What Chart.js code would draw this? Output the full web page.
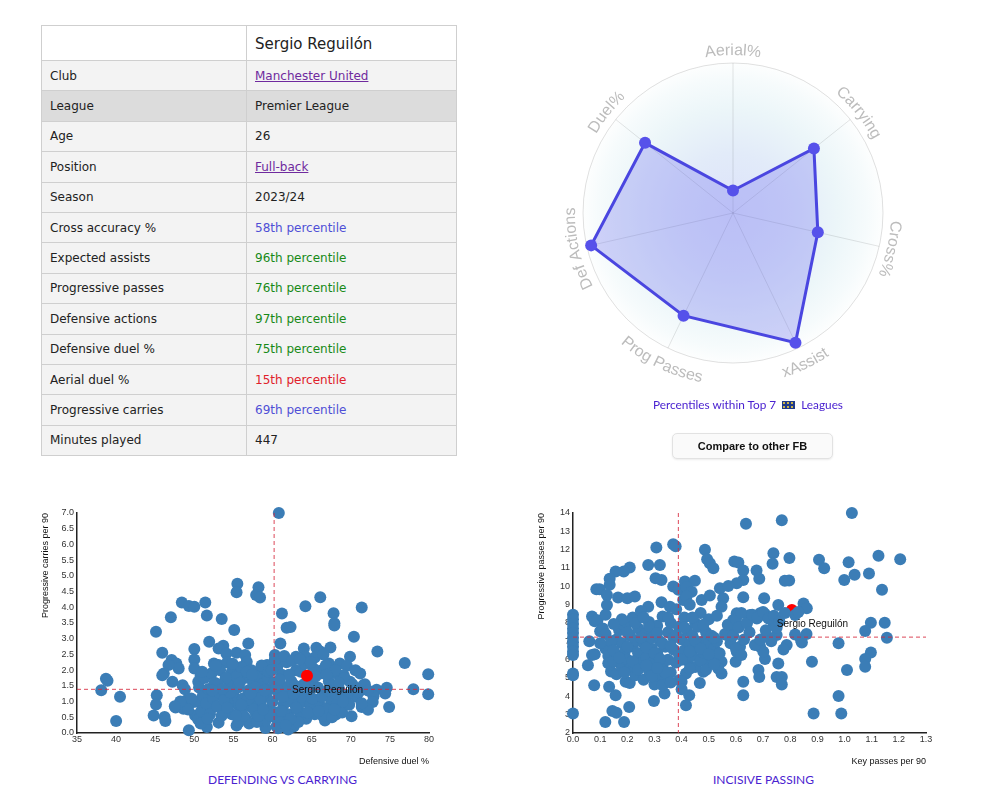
<!DOCTYPE html>
<html>
<head>
<meta charset="utf-8">
<script src="https://cdn.jsdelivr.net/npm/chart.js@4"></script>
<style>
  body { margin: 0; background: #fff; width: 994px; height: 806px; position: relative; overflow: hidden; }
  .profile { position: absolute; left: 41px; top: 25px; width: 416px; border-collapse: collapse;
    font-family: "DejaVu Sans", sans-serif; font-size: 12px; color: #222; }
  .profile td { border: 1px solid #cfcfcf; padding: 0 8px; height: 29.4px; background: #f3f3f3; }
  .profile td:first-child { width: 188px; }
  .profile tr.head td { background: #fff; height: 32px; font-size: 15px; padding-top: 2px; }
  .profile tr.hover td { background: #dcdcdc; }
  .profile a { color: #6f2a9e; }
  .blue { color: #4f4fd6; }
  .green { color: #178a17; }
  .red { color: #e0202a; }
  canvas { position: absolute; }
  .note { position: absolute; font-family: Lato, sans-serif; color: #4a22d0; white-space: nowrap; }
  .flag { display: inline-block; width: 13px; height: 8px; background: #1f3a8a; vertical-align: 0px; margin: 0 3px;
    background-image: radial-gradient(circle, #c9b24a 0.8px, transparent 1.2px); background-size: 4px 4px; }
  .btn { position: absolute; left: 672px; top: 433px; width: 159px; height: 24px; border: 1px solid #e2e2e2;
    border-radius: 5px; background: #fafafa; box-shadow: 0 1px 2px rgba(0,0,0,0.08);
    font: bold 11px "Liberation Sans", Arial, sans-serif; color: #111; text-align: center; line-height: 24px; }
</style>
</head>
<body>
<table class="profile">
  <tr class="head"><td></td><td>Sergio Reguilón</td></tr>
  <tr><td>Club</td><td><a href="#">Manchester United</a></td></tr>
  <tr class="hover"><td>League</td><td>Premier League</td></tr>
  <tr><td>Age</td><td>26</td></tr>
  <tr><td>Position</td><td><a href="#">Full-back</a></td></tr>
  <tr><td>Season</td><td>2023/24</td></tr>
  <tr><td>Cross accuracy %</td><td class="blue">58th percentile</td></tr>
  <tr><td>Expected assists</td><td class="green">96th percentile</td></tr>
  <tr><td>Progressive passes</td><td class="green">76th percentile</td></tr>
  <tr><td>Defensive actions</td><td class="green">97th percentile</td></tr>
  <tr><td>Defensive duel %</td><td class="green">75th percentile</td></tr>
  <tr><td>Aerial duel %</td><td class="red">15th percentile</td></tr>
  <tr><td>Progressive carries</td><td class="blue">69th percentile</td></tr>
  <tr><td>Minutes played</td><td>447</td></tr>
</table>

<canvas id="radar" width="400" height="400" style="left:533px;top:13px"></canvas>
<div class="note" style="left:653px;top:397px;font-size:11.8px">Percentiles within Top 7 <span class="flag"></span> Leagues</div>
<div class="btn">Compare to other FB</div>

<canvas id="carry" width="420" height="270" style="left:30px;top:500px"></canvas>
<div class="note" style="left:208px;top:772px;font-size:12px;letter-spacing:0px">DEFENDING VS CARRYING</div>

<canvas id="pass" width="420" height="270" style="left:530px;top:500px"></canvas>
<div class="note" style="left:713px;top:772px;font-size:12px;letter-spacing:0px">INCISIVE PASSING</div>

<script>
// radar percentiles
const radarLabels = ["Aerial%", "Carrying", "Cross%", "xAssist", "Prog Passes", "Def Actions", "Duel%"];
const radarValues = [15, 69, 58, 96, 76, 97, 75];

const playerName = "Sergio Reguilón";

// defensive duel % vs progressive carries per 90
const carryPlayer = [64.4, 1.82];
const carryMedian = [60.2, 1.39];
const carryPoints = [
  [60.8,7.0],[55.5,4.75],[55.4,4.48],[58.2,4.64],[57.9,4.39],[58.4,4.31],[66.1,4.32],[64.2,4.03],[71.4,3.99],
  [48.4,4.15],[49.3,4.04],[50.0,4.02],[51.4,4.15],[51.6,3.74],[47.0,3.68],[53.5,3.63],[61.2,3.8],[67.8,3.81],
  [67.9,3.49],[67.9,3.42],[61.8,3.35],[62.3,3.37],[55.1,3.28],[45.1,3.22],[70.4,3.06],
  [51.9,2.9],[56.9,2.85],[61.0,2.85],[53.7,2.78],[53.1,2.69],[50.0,2.67],[67.4,2.72],[64.0,2.69],[65.6,2.71],
  [66.1,2.59],[73.4,2.59],[45.9,2.55],[54.1,2.53],[55.4,2.55],[56.5,2.48],[60.3,2.48],[63.0,2.43],[64.2,2.43],
  [65.4,2.4],[69.9,2.43],[76.9,2.23],
  [47.1,2.32],[47.7,2.21],[50.0,2.34],[50.0,2.05],[48.0,2.05],[46.7,2.16],[52.5,2.21],[53.1,2.16],[54.2,2.24],
  [56.7,2.27],[59.3,2.16],[60.8,2.27],[61.8,2.3],[67.2,2.21],[68.6,2.21],[69.5,2.14],[71.2,1.89],[79.9,1.87],
  [46.1,1.89],[45.9,1.84],[50.8,1.81],[50.5,1.63],[47.2,1.63],[38.7,1.73],[38.9,1.66],[38.1,1.36],[48.5,1.52],
  [48.8,1.39],[56.1,1.86],[54.8,1.95],[66.1,1.98],[68.2,1.89],[69.1,1.84],[69.9,1.63],[71.6,1.52],[73.3,1.38],
  [74.6,1.44],[74.4,1.26],[72.9,1.17],[72.8,0.99],[74.9,0.83],[78.0,1.39],[79.9,1.23],[70.5,1.41],[70.7,1.15],
  [69.3,1.07],[71.4,0.83],[72.2,0.74],[70.1,0.53],[68.1,0.59],[66.7,0.4],
  [40.5,1.15],[40.0,0.38],[45.2,1.2],[45.1,0.91],[44.8,0.56],[46.2,0.51],[46.3,0.38],[47.6,0.81],[48.6,0.77],
  [49.0,1.04],[49.3,0.09],[49.9,0.99],[50.1,0.56],[50.5,0.43],[51.2,1.04],[51.6,0.19],[51.4,0.65],[53.1,0.33],
  [53.5,0.78],[53.7,1.15],[52.5,0.83],[55.4,0.24],[59.1,0.16],[60.5,0.21],[62.0,0.11],[62.7,0.21],[63.5,0.46],
  [61.4,0.46],[60.3,0.51],
  [54.5,1.55],[55.0,1.2],[55.2,0.95],[55.6,1.45],[55.9,0.7],[56.2,1.1],[56.4,1.75],[56.6,0.45],[56.9,1.35],
  [57.1,0.85],[57.3,2.0],[57.5,1.6],[57.7,1.05],[57.9,0.6],[58.1,1.85],[58.3,1.3],[58.5,0.9],[58.7,1.55],
  [58.9,2.05],[59.1,0.4],[59.2,1.15],[59.4,1.75],[59.6,0.75],[59.8,1.4],[54.8,0.6],[55.4,1.8],[56.0,2.1],
  [57.0,0.3],[58.0,0.35],[56.7,1.95],[55.7,0.35],[54.3,0.95],[58.6,2.15],[59.5,1.95],[57.8,1.45],[56.3,0.55],
  [60.0,1.0],[60.2,1.6],[60.4,0.65],[60.6,2.1],[60.8,1.25],[61.0,0.35],[61.2,1.85],[61.4,0.9],[61.6,1.45],
  [61.8,2.25],[62.0,0.6],[62.2,1.15],[62.4,1.65],[62.6,0.3],[62.8,0.95],[63.0,2.0],[60.3,2.35],[61.5,2.45],
  [62.5,2.3],[60.7,0.15],[61.9,1.0],
  [63.2,1.35],[63.4,0.7],[63.6,1.95],[63.9,1.0],[64.1,2.2],[64.3,0.45],[64.6,1.25],[64.8,0.85],[65.0,1.6],
  [65.2,2.05],[65.4,0.6],[65.6,1.05],[65.8,1.45],[66.0,0.9],[66.2,1.9],[66.4,0.55],[66.6,1.3],[66.8,2.15],
  [67.0,0.8],[67.2,1.65],[67.4,1.1],[67.6,0.5],[67.8,1.5],[68.0,2.0],[68.3,0.95],[68.6,1.35],[68.9,0.65],
  [69.2,1.75],[69.5,1.2],[69.8,0.9],[70.2,1.55],[70.6,2.0],[71.0,1.3],[71.4,0.95],[71.8,1.55],[72.2,1.35],
  [64.0,1.55],[65.5,1.8],[63.5,2.35],[66.5,2.5],[63.3,0.35],
  [50.3,1.0],[50.6,1.45],[50.9,0.7],[51.1,1.2],[51.3,1.75],[51.5,0.95],[51.8,1.4],[52.0,0.6],[52.2,1.9],
  [52.4,1.1],[52.6,1.6],[52.9,0.85],[53.1,1.3],[53.3,2.0],[53.5,0.55],[53.8,1.05],[54.0,1.75],[54.2,0.8],
  [52.7,2.15],[51.0,1.95],[53.0,1.55],[50.8,0.3],[49.6,1.1],[49.2,0.75],[48.2,1.0],[47.5,0.85],
  [55.8,1.6],[56.8,1.05],[57.6,0.75],[58.4,1.1],[59.0,1.35],[59.7,0.55],[60.5,1.45],[61.1,0.7],[61.3,1.15],
  [62.1,1.85],[62.9,1.5],[63.7,1.15],[64.5,0.65],[65.1,1.1],[65.9,0.7],[66.3,1.15],[67.1,1.35],[67.9,0.75],
  [68.5,1.6],[69.0,1.0],[63.0,0.8],[62.3,0.45],[58.2,0.55],[57.2,1.25],[56.0,0.9],[55.3,0.55],[54.6,1.3],
  [59.9,2.0],[60.9,1.7],[64.9,2.25],[66.9,1.85],[68.1,1.25],[62.7,1.25],[61.7,0.25],[58.8,0.75],[57.4,1.85],
  [53.6,1.4],[52.3,1.35],[51.7,0.45],[54.9,2.2]
];

// key passes per 90 vs progressive passes per 90
const passPlayer = [0.806, 8.71];
const passMedian = [0.388, 7.23];
const passPoints = [
  [1.027,14.0],[0.637,13.42],[0.769,13.6],[0.369,12.3],[0.378,12.18],[0.307,12.12],[0.486,11.99],[0.738,11.81],
  [0.797,11.54],[1.125,11.67],[1.205,11.48],[0.906,11.45],[1.015,11.32],[0.735,11.23],[0.594,11.36],[0.609,11.3],
  [0.494,11.48],[0.504,11.26],[0.517,10.99],[0.277,11.17],[0.32,11.17],[0.209,11.03],[0.187,10.81],[0.157,10.81],
  [0.627,10.86],[0.676,10.86],[0.925,10.99],[0.999,10.35],[1.037,10.63],[1.09,10.7],
  [1.138,9.81],[0.796,10.32],[0.78,10.3],[0.686,10.41],[0.627,10.35],[0.603,10.17],[0.304,10.44],[0.326,10.35],
  [0.135,10.41],[0.135,10.08],[0.086,9.84],[0.098,9.84],[0.125,9.53],[0.125,8.98],[0.166,9.39],[0.2,9.35],
  [0.228,9.44],[0.277,8.89],[0.326,9.13],[0.357,8.89],[0.369,9.99],[0.388,9.81],[0.412,10.26],[0.449,10.3],
  [0.418,9.95],[0.437,9.71],[0.406,9.26],[0.418,9.44],[0.474,9.26],[0.504,9.5],[0.541,9.9],[0.572,10.02],
  [0.553,9.35],[0.547,8.89],[0.627,9.4],[0.704,9.35],[0.756,8.98],[0.849,9.07],[0.861,8.8],[0.818,8.44],[0.83,8.6],
  [1.156,7.19],[1.148,8.02],[1.097,8.02],[1.076,7.56],[1.097,6.39],[1.076,6.03],[1.076,5.61],[0.978,6.89],
  [1.009,5.43],[0.978,4.02],[0.988,3.06],[0.886,3.06],[0.88,5.88],[0.843,6.93],[0.818,7.37],[0.787,6.8],
  [0.775,6.56],[0.756,5.79],[0.75,5.06],[0.769,5.06],[0.769,4.64],[0.683,5.43],[0.686,5.06],[0.707,6.03],
  [0.689,6.7],[0.701,6.43],[0.726,7.16],[0.75,7.34],[0.74,7.89],[0.677,8.25],[0.689,8.53],[0.652,8.44],
  [0.707,8.49],[0.627,4.06],[0.627,4.79],[0.599,5.88],[0.615,6.7],[0.603,6.43],[0.578,7.53],[0.565,7.35],
  [0.59,8.16],[0.603,8.53],[0.64,7.98],[0.547,5.88],[0.547,5.24],[0.535,5.52],[0.504,5.88],[0.48,5.34],
  [0.467,4.73],[0.416,5.24],[0.4,4.79],[0.391,4.88],[0.4,4.39],[0.428,4.06],[0.416,3.51],[0.337,4.15],
  [0.298,3.75],[0.207,3.42],[0.145,3.2],[0.16,3.11],[0.119,2.6],[0.188,2.6],[0.0,3.06],[0.0,5.15],[0.0,5.25],
  [0.055,5.7],[0.078,4.61],[0.157,4.06],[0.133,4.52],[0.194,4.79],[0.209,4.73],
  [0,8.45],[0,8.2],[0,7.95],[0,7.7],[0,7.45],[0,7.2],[0,6.95],[0,6.7],[0,6.45],[0,6.25],
  [0.06,7.0],[0.07,8.35],[0.08,8.1],[0.09,8.15],[0.07,6.25],[0.08,6.3],[0.1,7.55],[0.11,7.7],[0.12,7.4],
  [0.12,6.6],[0.13,6.2],[0.13,5.8],[0.14,5.35],[0.15,5.9],[0.16,5.2],[0.16,7.1],[0.17,7.6],[0.18,6.9],
  [0.18,5.6],[0.19,6.4],[0.19,7.85],[0.2,8.0],[0.2,6.0],[0.21,7.3],[0.21,5.5],[0.22,6.7],[0.22,8.3],
  [0.23,7.05],[0.23,5.15],[0.24,6.35],[0.24,7.7],[0.25,8.65],[0.25,5.8],[0.26,6.9],[0.26,4.9],[0.27,7.45],
  [0.27,6.1],[0.28,8.05],[0.28,5.4],[0.29,6.6],[0.29,7.2],[0.3,4.65],[0.3,5.95],[0.31,7.85],[0.31,6.35],
  [0.32,5.1],[0.32,7.0],[0.33,8.35],[0.33,5.6],[0.34,6.7],[0.34,4.9],[0.35,7.5],[0.35,6.0],[0.36,8.0],
  [0.36,5.3],[0.37,6.55],[0.37,7.2],[0.38,8.75],[0.38,5.85],[0.39,7.8],[0.39,6.3],
  [0.4,7.1],[0.41,6.5],[0.41,8.3],[0.42,7.6],[0.42,5.95],[0.43,6.85],[0.43,9.0],[0.44,7.3],[0.44,6.2],
  [0.45,8.0],[0.45,5.6],[0.46,6.7],[0.46,7.8],[0.47,5.95],[0.47,8.55],[0.48,7.0],[0.48,6.4],[0.49,7.5],
  [0.49,5.45],[0.5,6.85],[0.5,8.2],[0.51,6.1],[0.51,7.3],[0.52,6.6],[0.52,5.75],[0.53,7.0],[0.53,8.4],[0.54,6.35],
  [0.56,7.4],[0.57,7.9],[0.58,6.9],[0.59,7.3],[0.6,6.6],[0.6,8.2],[0.61,7.75],[0.62,6.25],[0.62,8.55],
  [0.63,7.1],[0.64,8.0],[0.65,7.5],[0.66,8.45],[0.67,6.8],[0.68,8.3],[0.69,7.1],[0.7,8.6],[0.71,7.6],
  [0.72,8.25],[0.73,7.0],[0.74,8.4],[0.75,7.75],[0.76,8.1],[0.78,8.55],[0.84,7.05],[0.86,7.4],
  [0.14,7.0],[0.15,6.5],[0.17,6.1],[0.2,6.7],[0.22,5.9],[0.24,5.45],[0.25,7.2],[0.27,6.65],[0.28,7.85],
  [0.29,5.1],[0.3,6.35],[0.31,7.45],[0.32,6.05],[0.33,6.9],[0.34,5.3],[0.35,8.3],[0.36,6.75],[0.38,7.35],
  [0.4,6.0],[0.41,7.75],[0.43,6.45],[0.44,8.3],[0.45,7.05],[0.47,6.6],[0.48,7.9],[0.5,6.3],[0.52,7.2],
  [0.2,7.5],[0.23,8.0],[0.26,8.3],[0.18,8.2],[0.12,8.45],[0.15,7.95],[0.1,6.9],[0.19,5.3],[0.27,5.7],
  [0.33,4.6],[0.31,5.55],[0.36,4.75],[0.43,5.5]
];

const AXIS_FONT = '"Liberation Sans", Arial, sans-serif';
Chart.defaults.font.family = AXIS_FONT;
Chart.defaults.animation = false;

// soft radial wash behind the radar
const radarBackground = {
  id: "radarBackground",
  beforeDraw(chart) {
    const r = chart.scales.r;
    const ctx = chart.ctx;
    const g = ctx.createRadialGradient(r.xCenter, r.yCenter, 0, r.xCenter, r.yCenter, r.drawingArea);
    g.addColorStop(0, "rgba(220,226,250,1)");
    g.addColorStop(0.4, "rgba(226,235,249,1)");
    g.addColorStop(0.7, "rgba(236,246,249,1)");
    g.addColorStop(0.9, "rgba(246,251,252,1)");
    g.addColorStop(1, "rgba(253,254,254,1)");
    ctx.save();
    ctx.fillStyle = g;
    ctx.beginPath();
    ctx.arc(r.xCenter, r.yCenter, r.drawingArea, 0, Math.PI * 2);
    ctx.fill();
    ctx.restore();
  },
};

// labels bent along the outer ring
const arcLabels = {
  id: "arcLabels",
  afterDraw(chart) {
    const scale = chart.scales.r;
    const ctx = chart.ctx;
    ctx.save();
    ctx.font = "16px " + AXIS_FONT;
    ctx.fillStyle = "#bcbcbc";
    ctx.textAlign = "center";
    ctx.textBaseline = "alphabetic";
    radarLabels.forEach((label, i) => {
      const angle = scale.getIndexAngle(i);
      const flip = angle > Math.PI * 0.7 && angle < Math.PI * 1.3;
      const rad = scale.drawingArea + (flip ? 22 : 8);
      const total = ctx.measureText(label).width;
      let pos = -total / 2;
      for (const ch of label) {
        const w = ctx.measureText(ch).width;
        const off = (pos + w / 2) / rad;
        const a = flip ? angle - off : angle + off;
        ctx.save();
        ctx.translate(scale.xCenter + rad * Math.sin(a), scale.yCenter - rad * Math.cos(a));
        ctx.rotate(flip ? a + Math.PI : a);
        ctx.fillText(ch, 0, 0);
        ctx.restore();
        pos += w;
      }
    });
    ctx.restore();
  },
};

new Chart(document.getElementById("radar"), {
  type: "radar",
  data: {
    labels: radarLabels,
    datasets: [{
      data: radarValues,
      borderColor: "#4a46e0",
      backgroundColor: "rgba(110,110,240,0.3)",
      borderWidth: 3,
      pointRadius: 6,
      pointBorderWidth: 0,
      pointBackgroundColor: "#5651ea",
      fill: true,
    }],
  },
  options: {
    responsive: false,
    layout: { padding: 50 },
    plugins: { legend: { display: false }, tooltip: { enabled: false } },
    scales: {
      r: {
        min: 0,
        max: 100,
        ticks: { display: false, stepSize: 100 },
        pointLabels: { display: false },
        grid: { circular: true, color: "rgba(0,0,0,0.12)" },
        angleLines: { color: "rgba(0,0,0,0.1)" },
      },
    },
  },
  plugins: [radarBackground, arcLabels],
});

// median cross-hairs and player name
const guides = {
  id: "guides",
  afterDatasetsDraw(chart, args, opts) {
    const { ctx, chartArea } = chart;
    const x = chart.scales.x;
    const y = chart.scales.y;
    const mx = x.getPixelForValue(opts.median[0]);
    const my = y.getPixelForValue(opts.median[1]);
    ctx.save();
    ctx.strokeStyle = "rgba(214,40,60,0.85)";
    ctx.lineWidth = 1;
    ctx.setLineDash([4, 3]);
    ctx.beginPath();
    ctx.moveTo(mx, chartArea.top);
    ctx.lineTo(mx, chartArea.bottom);
    ctx.moveTo(chartArea.left, my);
    ctx.lineTo(chartArea.right, my);
    ctx.stroke();
    ctx.setLineDash([]);
    const px = x.getPixelForValue(opts.player[0]);
    const py = y.getPixelForValue(opts.player[1]);
    ctx.fillStyle = "#111";
    ctx.font = "10px " + AXIS_FONT;
    ctx.textBaseline = "middle";
    ctx.fillText(playerName, px - 15, py + 14);
    ctx.restore();
  },
};

function scatterConfig(points, player, median, playerOnTop, xOpts, yOpts) {
  const blue = {
    data: points.map(([x, y]) => ({ x, y })),
    backgroundColor: "#3b7db6",
    pointRadius: 6,
    borderWidth: 0,
    clip: false,
  };
  const red = {
    data: [{ x: player[0], y: player[1] }],
    backgroundColor: "#ff0000",
    pointRadius: 6,
    borderWidth: 0,
    clip: false,
  };
  const tickFont = { size: 9 };
  return {
    type: "scatter",
    data: { datasets: playerOnTop ? [red, blue] : [blue, red] },
    options: {
      responsive: false,
      events: [],
      layout: { padding: { top: 13, right: xOpts.padRight, left: 0, bottom: 0 } },
      plugins: { legend: { display: false }, tooltip: { enabled: false }, guides: { median, player } },
      scales: {
        x: {
          min: xOpts.min, max: xOpts.max,
          grid: { display: false, drawTicks: false },
          border: { color: "#222", width: 1.5 },
          ticks: { stepSize: xOpts.step, autoSkip: false, maxRotation: 0, padding: 1, color: "#333", font: tickFont,
            callback: xOpts.format },
          title: { display: true, text: xOpts.title, align: "end", color: "#111", font: { size: 9 },
            padding: { top: 0, bottom: 3 } },
          afterFit: (s) => { s.height = 37; },
        },
        y: {
          min: yOpts.min, max: yOpts.max,
          grid: { display: false, drawTicks: false },
          border: { color: "#222", width: 1.5 },
          ticks: { stepSize: yOpts.step, autoSkip: false, padding: 3, color: "#333", font: tickFont,
            callback: yOpts.format },
          title: { display: true, text: yOpts.title, align: "end", color: "#111", font: { size: 9 },
            padding: { top: yOpts.titlePad, bottom: 0 } },
          afterFit: (s) => { s.width = yOpts.width; },
        },
      },
    },
    plugins: [guides],
  };
}

new Chart(document.getElementById("carry"), scatterConfig(
  carryPoints, carryPlayer, carryMedian, true,
  { min: 35, max: 80, step: 5, padRight: 21, title: "Defensive duel %", format: (v) => v },
  { min: 0, max: 7, step: 0.5, width: 47, titlePad: 10, title: "Progressive carries per 90", format: (v) => v.toFixed(1) }
));

new Chart(document.getElementById("pass"), scatterConfig(
  passPoints, passPlayer, passMedian, false,
  { min: 0, max: 1.3, step: 0.1, padRight: 24, title: "Key passes per 90", format: (v) => v.toFixed(1) },
  { min: 2, max: 14, step: 1, width: 43, titlePad: 6, title: "Progressive passes per 90", format: (v) => v }
));
</script>
</body>
</html>
